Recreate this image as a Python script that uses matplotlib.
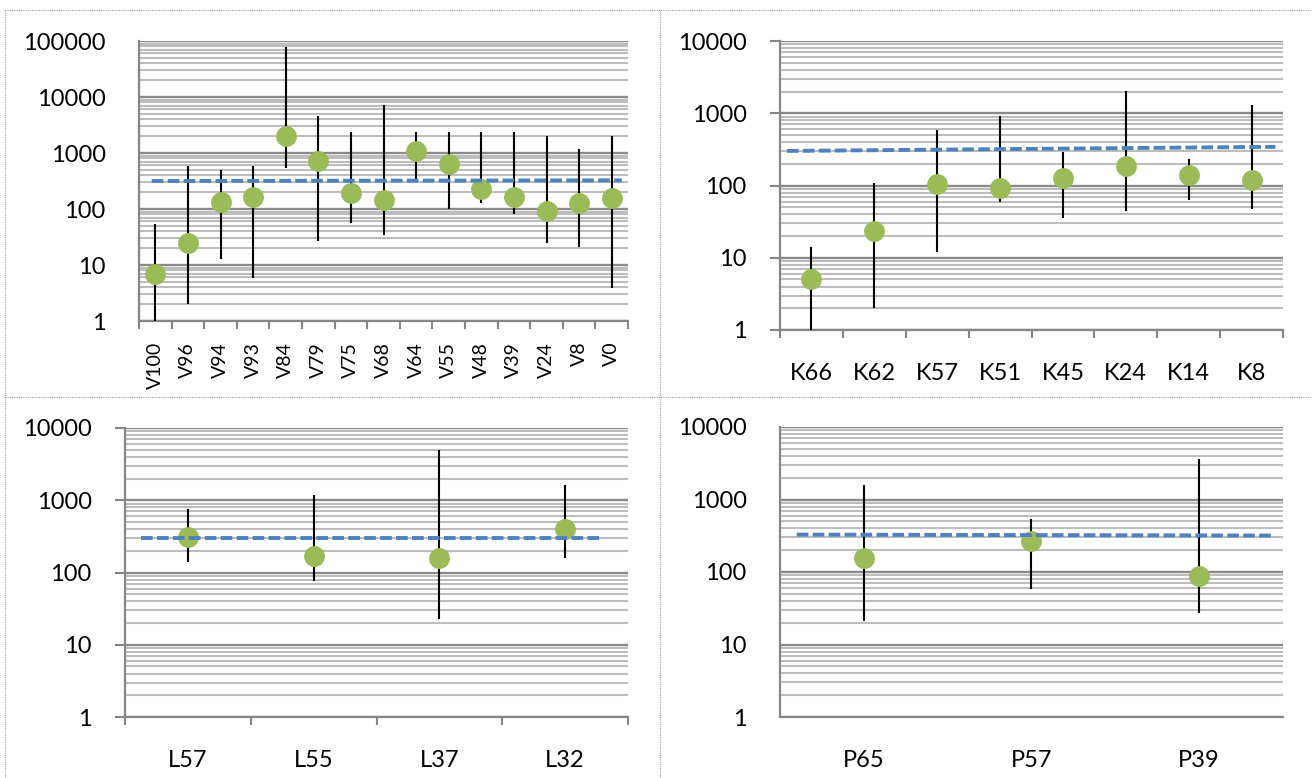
import matplotlib.pyplot as plt
from matplotlib.lines import Line2D
from matplotlib.ticker import LogLocator, NullFormatter, FixedLocator
import numpy as np

plt.rcParams['font.family'] = ['Lato', 'DejaVu Sans']

# panel 1 (V)
v_labels = ["V100", "V96", "V94", "V93", "V84", "V79", "V75", "V68", "V64",
            "V55", "V48", "V39", "V24", "V8", "V0"]
v_mid = [6.8, 24.7, 135, 164, 1985, 720, 193, 147, 1086, 645, 231, 164, 92, 130, 159]
v_high = [53, 578, 490, 578, 78000, 4515, 2371, 7300, 2371, 2371, 2371, 2371, 1985, 1195, 1985]
v_low = [1, 2.0, 13, 5.9, 547, 26.8, 57, 34, 339, 99, 130, 80, 24.7, 21, 3.9]
v_ref = [316, 325]

# panel 2 (K)
k_labels = ["K66", "K62", "K57", "K51", "K45", "K24", "K14", "K8"]
k_mid = [5.0, 23.1, 104, 91, 125, 185, 139, 121]
k_high = [13.9, 109, 582, 909, 292, 2014, 236, 1291]
k_low = [1, 2.0, 12.1, 60, 36, 44.7, 62.7, 46.6]
k_ref = [301, 343]

# panel 3 (L)
l_labels = ["L57", "L55", "L37", "L32"]
l_mid = [310, 169, 159, 404]
l_high = [765, 1195, 4910, 1608]
l_low = [140, 75.5, 23, 160]
l_ref = [303, 303]

# panel 4 (P)
p_labels = ["P65", "P57", "P39"]
p_mid = [158, 268, 87]
p_high = [1596, 541, 3610]
p_low = [21, 58, 26.8]
p_ref = [328, 318]

W, H = 1312, 778
fig = plt.figure(figsize=(W / 100, H / 100), dpi=100)

panels = [
    # labels, mid, high, low, ref, rect(px: left, top, right, bottom), ymax, ref span, rotate, yticks, xticks
    (v_labels, v_mid, v_high, v_low, v_ref, (139, 41, 628, 321), 1e5, (-0.11, 0.31), True, False, True),
    (k_labels, k_mid, k_high, k_low, k_ref, (780, 41, 1283, 330), 1e4, (-0.39, 0.38), False, True, True),
    (l_labels, l_mid, l_high, l_low, l_ref, (125, 428, 628, 717), 1e4, (-0.37, 0.29), False, True, True),
    (p_labels, p_mid, p_high, p_low, p_ref, (780, 427, 1283, 717), 1e4, (-0.40, 0.44), False, False, False),
]

grey = '#868686'
for labels, mid, high, low, ref, rect, ymax, span, rot, yt, xt in panels:
    l, t, r, b = rect
    ax = fig.add_axes([l / W, 1 - b / H, (r - l) / W, (b - t) / H])
    n = len(labels)
    x = np.arange(n)
    ax.set_yscale('log')
    ax.set_ylim(1, ymax)
    ax.set_xlim(-0.5, n - 0.5)

    ax.yaxis.set_minor_locator(LogLocator(base=10, subs=np.arange(2, 10), numticks=20))
    ax.yaxis.set_minor_formatter(NullFormatter())
    ax.set_yticks([10 ** i for i in range(int(np.log10(ymax)) + 1)])
    ax.set_yticklabels([str(10 ** i) for i in range(int(np.log10(ymax)) + 1)])
    ax.grid(True, which='minor', axis='y', color='#bdbdbd', lw=1.5, zorder=0)
    ax.grid(True, which='major', axis='y', color='#8a8a8a', lw=1.7, zorder=0)
    ax.set_axisbelow(True)

    ax.vlines(x, low, high, color='black', lw=1.5, zorder=3)
    ax.plot(x, mid, 'o', color='#9bbb59', ms=15, mec='none', zorder=4)
    ax.plot([span[0], n - 1 + span[1]], ref, ls=(0, (3.0, 1.1)), color='#4f81bd',
            lw=2.8, zorder=5)

    ax.set_xticks(x)
    ax.set_xticklabels(labels, rotation=90 if rot else 0)
    ax.xaxis.set_minor_locator(FixedLocator(np.arange(n + 1) - 0.5))
    ax.tick_params(axis='x', which='major', length=0, labelsize=14 if rot else 17,
                   pad=15 if rot else 24)
    ax.tick_params(axis='x', which='minor', length=6 if xt else 0, color=grey, width=1.5)
    ax.tick_params(axis='y', which='major', length=7 if yt else 0, color=grey, width=1.5,
                   labelsize=17, pad=17 if yt else 24)
    ax.tick_params(axis='y', which='minor', length=0)

    for s in ['top', 'right']:
        ax.spines[s].set_visible(False)
    for s in ['left', 'bottom']:
        ax.spines[s].set_color(grey)
        ax.spines[s].set_linewidth(1.6)

# dotted panel frames
frame = dict(color='#a0a0a0', lw=0.8, ls=(0, (1, 1)))
for seg in [((5, W), (10, 10)), ((5, W), (397, 397)), ((5, 5), (10, H)), ((660, 660), (10, H))]:
    fig.add_artist(Line2D([seg[0][0] / W, seg[0][1] / W],
                          [1 - seg[1][0] / H, 1 - seg[1][1] / H], **frame))

fig.savefig('out.png', dpi=100)
